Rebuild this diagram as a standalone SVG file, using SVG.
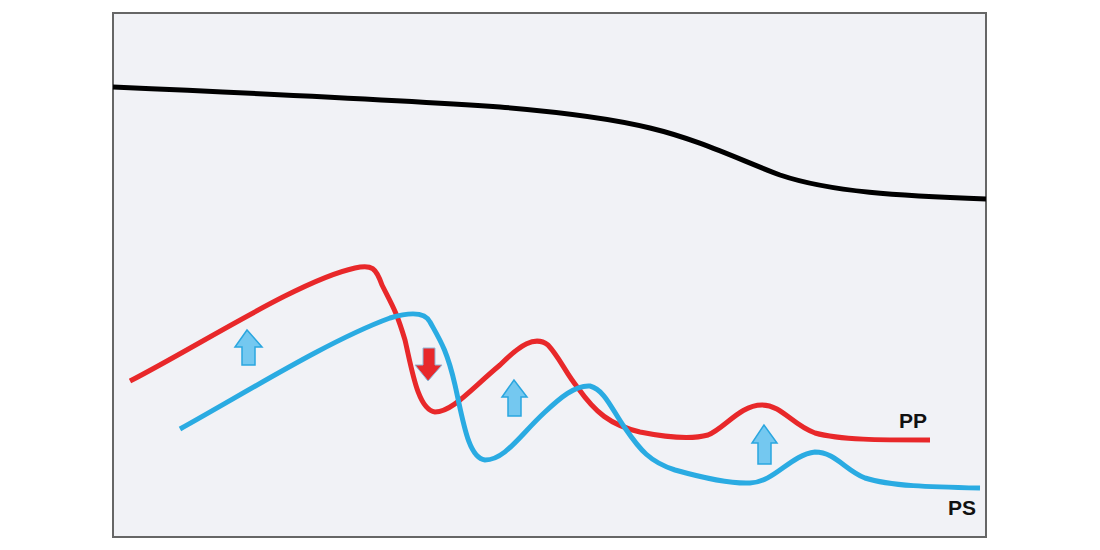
<svg xmlns="http://www.w3.org/2000/svg" width="1100" height="550" viewBox="0 0 1100 550">
<style>
.curve{fill:none;stroke-width:5;stroke-linecap:butt;stroke-linejoin:round}
.up{fill:#74c8f0;stroke:#2aa6df;stroke-width:1.5}
.lbl{font-family:"Liberation Sans",Arial,sans-serif;font-weight:bold;font-size:21px;fill:#111}
</style>
<rect x="0" y="0" width="1100" height="550" fill="#ffffff"/>
<rect id="frame" x="113" y="13" width="873" height="524" fill="#f1f2f6" stroke="#666" stroke-width="2"/>
<g id="connectors">
<path id="horizon" class="curve" stroke="#000" stroke-width="6" d="M113,87 C250,93 400,100 500,107 C560,112 610,118 650,128 C700,140 740,160 780,175 C830,192 900,196 986,199"/>
<path id="pp" class="curve" stroke="#e8282a" d="M130,381 C200,345 300,280 355,268 C372,264 376,268 382,285 C392,305 396,310 405,340 C412,370 418,410 435,412 C452,412 470,390 500,365 C520,345 535,335 548,345 C560,358 565,372 578,388 C595,412 610,425 640,432 C660,436 690,440 708,435 C725,428 740,405 762,405 C782,405 792,425 815,433 C840,440 880,440 930,440"/>
<path id="ps" class="curve" stroke="#2aabe2" d="M180,429 C250,390 330,340 390,318 C410,312 425,312 430,322 C440,340 447,350 455,385 C463,420 468,458 485,460 C505,460 520,435 545,412 C560,398 575,385 590,386 C605,390 612,410 625,428 C640,450 650,462 675,470 C700,477 730,484 750,483 C775,482 790,455 815,452 C835,452 845,470 865,478 C890,486 930,487 980,488"/>
</g>
<g id="arrow1"><path class="up" d="M247,330 L235,347 L242,347 L242,365 L255,365 L255,347 L262,347 Z"/></g>
<g id="arrow2"><path class="up" d="M514,380 L502,397 L508,397 L508,416 L521,416 L521,397 L527,397 Z"/></g>
<g id="arrow3"><path class="up" d="M764,425 L752,443 L758,443 L758,464 L771,464 L771,443 L777,443 Z"/></g>
<g id="arrow-down"><path d="M423,348 L435,348 L435,365 L442,365 L428,381 L415,365 L423,365 Z" fill="#e8282a" stroke="#8fb8d8" stroke-width="1"/></g>
<g id="label-pp"><text class="lbl" x="899" y="428">PP</text></g>
<g id="label-ps"><text class="lbl" x="948" y="515">PS</text></g>
</svg>
